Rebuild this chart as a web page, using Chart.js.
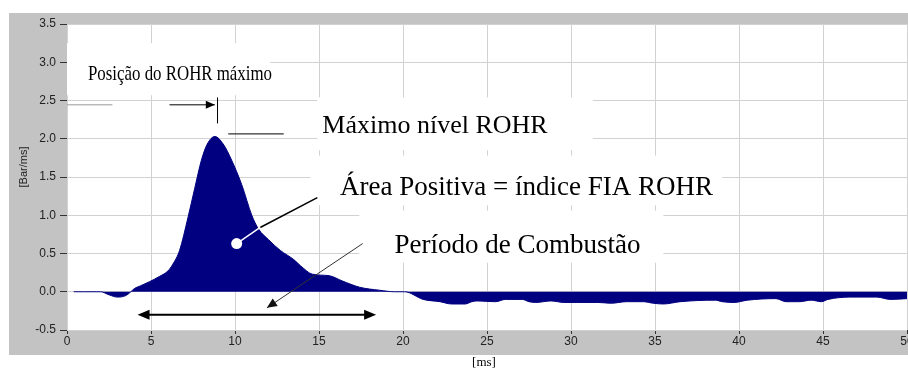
<!DOCTYPE html>
<html>
<head>
<meta charset="utf-8">
<script src="https://cdn.jsdelivr.net/npm/chart.js@4/dist/chart.umd.min.js"></script>
<style>
  html, body { margin: 0; padding: 0; background: #fff; }
  #wrap { width: 908px; height: 372px; }
</style>
</head>
<body>
<div id="wrap"><canvas id="rohr"></canvas></div>
<script>
// ROHR curve: time [ms] and rate [Bar/ms]
const timeMs = [0.4, 1.0, 2.0, 2.5, 3.0, 3.5, 3.8, 4.0, 4.4, 4.9, 5.5, 6.0, 6.3, 6.7, 7.2,
  7.6, 8.0, 8.35, 8.8, 9.3, 9.8, 10.4, 11.0, 11.4, 12.0, 12.7, 13.5, 13.9, 14.6, 15.6,
  16.4, 17.4, 18.6, 19.5, 20.1, 21.2, 22.2, 22.9, 23.7, 24.1, 24.4, 25.5, 26.1, 27.1, 27.5,
  27.9, 28.8, 29.6, 30.4, 31.6, 32.4, 33.3, 34.3, 34.9, 35.5, 36.5, 38.6, 39.0, 39.7, 40.5,
  42.2, 42.8, 43.6, 44.3, 44.9, 45.3, 46.6, 48.2, 49.0, 50.0];
const rohr = [0, 0, 0, -0.04, -0.07, -0.05, 0.0, 0.04, 0.08, 0.13, 0.2, 0.27, 0.36, 0.54, 0.97,
  1.35, 1.72, 1.93, 2.03, 1.93, 1.72, 1.40, 1.0, 0.82, 0.68, 0.54, 0.42, 0.34, 0.23, 0.21,
  0.14, 0.06, 0.02, 0.0, 0.0, -0.10, -0.13, -0.16, -0.16, -0.13, -0.12, -0.13, -0.10, -0.10, -0.13,
  -0.14, -0.12, -0.14, -0.14, -0.14, -0.15, -0.13, -0.13, -0.15, -0.16, -0.13, -0.11, -0.13, -0.14, -0.11,
  -0.09, -0.13, -0.13, -0.11, -0.13, -0.10, -0.07, -0.07, -0.10, -0.09];

const xTicks = [0, 5, 10, 15, 20, 25, 30, 35, 40, 45, 50];
const yTicks = [-0.5, 0.0, 0.5, 1.0, 1.5, 2.0, 2.5, 3.0, 3.5];

const yTitle = "[Bar/ms]";
const xTitle = "[ms]";

// annotation texts: [text, t, v, font size, max width]
const labels = [
  ["Posição do ROHR máximo", 1.25, 2.77, 22, 184],
  ["Máximo nível ROHR", 15.2, 2.07, 26, 240],
  ["Área Positiva = índice FIA ROHR", 16.25, 1.27, 27, 382],
  ["Período de Combustão", 19.5, 0.51, 27, 252]
];
// white boxes behind the texts: [t0, v0, t1, v1]
const boxes = [
  [0, 3.25, 12.1, 2.57],
  [14.9, 2.54, 31.3, 1.85],
  [14.5, 1.78, 39.0, 1.13],
  [17.4, 1.06, 35.5, 0.38]
];

const points = timeMs.map((t, i) => ({ x: t, y: rohr[i] }));

function arrowHead(ctx, x0, y0, x1, y1, len, half) {
  const a = Math.atan2(y1 - y0, x1 - x0);
  ctx.beginPath();
  ctx.moveTo(x1, y1);
  ctx.lineTo(x1 - len * Math.cos(a) + half * Math.sin(a), y1 - len * Math.sin(a) - half * Math.cos(a));
  ctx.lineTo(x1 - len * Math.cos(a) - half * Math.sin(a), y1 - len * Math.sin(a) + half * Math.cos(a));
  ctx.closePath();
  ctx.fill();
}

const framePlugin = {
  id: "frame",
  beforeDraw(chart) {
    const ctx = chart.ctx, a = chart.chartArea;
    ctx.save();
    ctx.fillStyle = "#ffffff";
    ctx.fillRect(0, 0, chart.width, chart.height);
    ctx.fillStyle = "#c3c3c3";
    ctx.fillRect(9, 13, chart.width - 9, 342);
    ctx.fillStyle = "#ffffff";
    ctx.fillRect(a.left, a.top, a.right - a.left, a.bottom - a.top);
    ctx.restore();
  },
  beforeDatasetsDraw(chart) {
    const ctx = chart.ctx, sx = chart.scales.x, sy = chart.scales.y;
    ctx.save();
    ctx.fillStyle = "#ffffff";
    boxes.forEach(b => {
      const x0 = sx.getPixelForValue(b[0]), y0 = sy.getPixelForValue(b[1]);
      const x1 = sx.getPixelForValue(b[2]), y1 = sy.getPixelForValue(b[3]);
      ctx.fillRect(x0, y0, x1 - x0, y1 - y0);
    });
    ctx.restore();
  },
  afterDatasetsDraw(chart) {
    const ctx = chart.ctx, sx = chart.scales.x, sy = chart.scales.y;
    const px = t => sx.getPixelForValue(t), py = v => sy.getPixelForValue(v);
    ctx.save();

    // texts
    ctx.fillStyle = "#000";
    ctx.textBaseline = "alphabetic";
    labels.forEach(l => {
      ctx.font = l[3] + "px 'Liberation Serif', 'Times New Roman', serif";
      ctx.fillText(l[0], px(l[1]), py(l[2]), l[4]);
    });

    // position of max: horizontal arrow + vertical tick
    ctx.lineWidth = 1;
    ctx.strokeStyle = "#9a9a9a";
    ctx.beginPath(); ctx.moveTo(px(0), py(2.45) + 0.5); ctx.lineTo(px(2.7), py(2.45) + 0.5); ctx.stroke();
    ctx.strokeStyle = "#000"; ctx.fillStyle = "#000";
    ctx.beginPath(); ctx.moveTo(px(6.1), py(2.45) + 0.5); ctx.lineTo(px(8.8), py(2.45) + 0.5); ctx.stroke();
    arrowHead(ctx, px(6.1), py(2.45) + 0.5, px(8.8), py(2.45) + 0.5, 9, 4);
    ctx.beginPath(); ctx.moveTo(px(8.93) + 0.5, py(2.54)); ctx.lineTo(px(8.93) + 0.5, py(2.2)); ctx.stroke();

    // max level line
    ctx.beginPath(); ctx.moveTo(px(9.6), py(2.07) + 0.5); ctx.lineTo(px(12.9), py(2.07) + 0.5); ctx.stroke();

    // positive area pointer
    ctx.lineWidth = 1.5;
    ctx.strokeStyle = "#000";
    ctx.beginPath(); ctx.moveTo(px(11.5), py(0.84)); ctx.lineTo(px(14.9), py(1.23)); ctx.stroke();
    ctx.strokeStyle = "#fff";
    ctx.beginPath(); ctx.moveTo(px(10.1), py(0.63)); ctx.lineTo(px(11.5), py(0.84)); ctx.stroke();
    ctx.fillStyle = "#fff";
    ctx.beginPath(); ctx.arc(px(10.1), py(0.63), 5.5, 0, Math.PI * 2); ctx.fill();

    // combustion period pointer
    ctx.lineWidth = 1;
    ctx.strokeStyle = "#333"; ctx.fillStyle = "#111";
    ctx.beginPath(); ctx.moveTo(px(17.6), py(0.63)); ctx.lineTo(px(11.9), py(-0.21)); ctx.stroke();
    arrowHead(ctx, px(17.6), py(0.63), px(11.9), py(-0.21), 10, 4.5);

    // double arrow for the combustion period
    ctx.lineWidth = 2;
    ctx.strokeStyle = "#000"; ctx.fillStyle = "#000";
    const ya = py(-0.30);
    ctx.beginPath(); ctx.moveTo(px(4.2) + 6, ya); ctx.lineTo(px(18.4) - 6, ya); ctx.stroke();
    arrowHead(ctx, px(18.4), ya, px(4.2), ya, 12, 5);
    arrowHead(ctx, px(4.2), ya, px(18.4), ya, 12, 5);

    // axis titles
    ctx.fillStyle = "#222";
    ctx.font = "11px 'Liberation Sans', Arial, sans-serif";
    ctx.textAlign = "center";
    ctx.textBaseline = "middle";
    ctx.save();
    ctx.translate(24, 167);
    ctx.rotate(-Math.PI / 2);
    ctx.fillText(yTitle, 0, 0);
    ctx.restore();
    ctx.fillStyle = "#000";
    ctx.font = "13px 'Liberation Serif', 'Times New Roman', serif";
    ctx.fillText(xTitle, 484, 363);
    ctx.restore();
  }
};

new Chart(document.getElementById("rohr").getContext("2d"), {
  type: "line",
  data: {
    datasets: [{
      label: "ROHR",
      data: points,
      borderColor: "#000080",
      backgroundColor: "#000080",
      borderWidth: 1,
      fill: "origin",
      cubicInterpolationMode: "monotone",
      pointRadius: 0
    }]
  },
  options: {
    responsive: true,
    maintainAspectRatio: false,
    animation: false,
    events: [],
    layout: { padding: { left: 9, top: 24, right: 1, bottom: 17 } },
    plugins: { legend: { display: false }, tooltip: { enabled: false } },
    scales: {
      x: {
        type: "linear",
        min: xTicks[0],
        max: xTicks[xTicks.length - 1],
        afterFit(scale) { scale.height = 25; scale.paddingLeft = 0; scale.paddingRight = 0; },
        afterBuildTicks(scale) { scale.ticks = xTicks.map(v => ({ value: v })); },
        border: { display: false },
        grid: { color: "#d2d2d2", tickColor: "#333", tickLength: 4, drawTicks: true },
        ticks: {
          color: "#222",
          padding: 0,
          maxRotation: 0,
          font: { family: "'Liberation Sans', Arial, sans-serif", size: 12 },
          callback: v => String(v)
        }
      },
      y: {
        min: yTicks[0],
        max: yTicks[yTicks.length - 1],
        afterFit(scale) { scale.width = 58; scale.paddingTop = 0; scale.paddingBottom = 0; },
        afterBuildTicks(scale) { scale.ticks = yTicks.map(v => ({ value: v })); },
        border: { display: false },
        grid: { color: "#d2d2d2", tickColor: "#333", tickLength: 7, drawTicks: true },
        ticks: {
          color: "#222",
          padding: 4,
          font: { family: "'Liberation Sans', Arial, sans-serif", size: 12 },
          callback: v => v.toFixed(1)
        }
      }
    }
  },
  plugins: [framePlugin]
});
</script>
</body>
</html>
